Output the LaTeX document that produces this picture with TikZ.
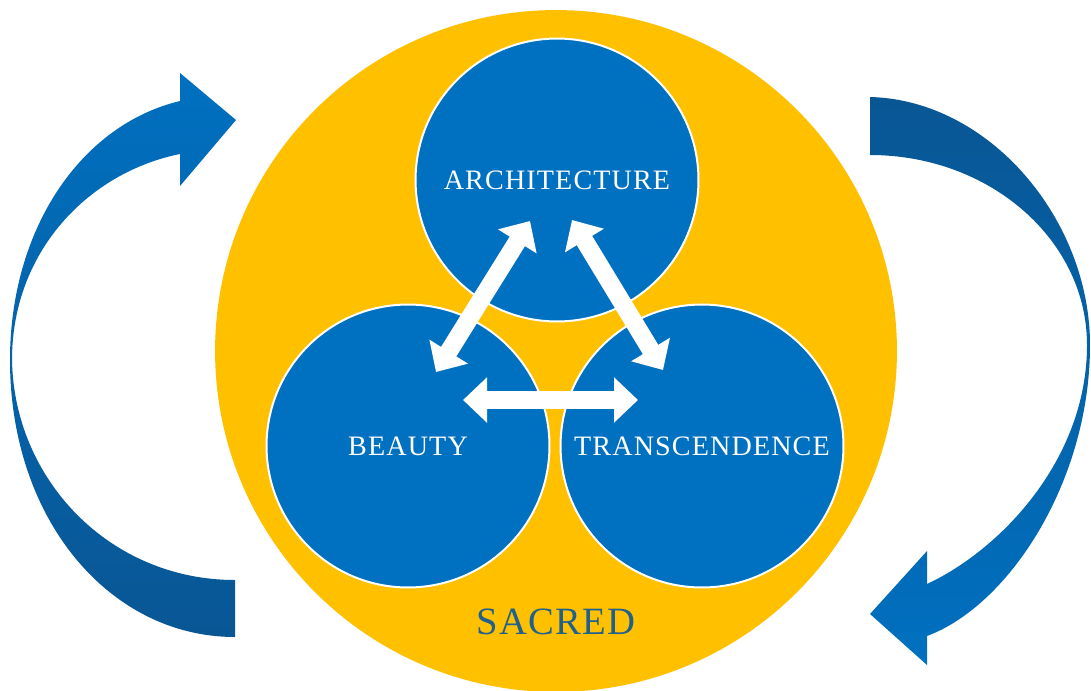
\documentclass[tikz,border=0pt]{standalone}
\usepackage{fontspec}
\setmainfont{Liberation Serif}
\usetikzlibrary{arrows.meta,calc}
\definecolor{gold}{RGB}{255,192,0}
\definecolor{ringblue}{RGB}{0,112,192}
\definecolor{deepblue}{RGB}{9,86,148}
\definecolor{sacredtext}{RGB}{31,96,140}
\begin{document}
\begin{tikzpicture}[x=0.02cm,y=-0.02cm,
  bubble/.style={circle, fill=ringblue, draw=white, line width=0.04cm,
    minimum size=5.66cm, inner sep=0pt, text=white,
    font=\fontsize{16}{18}\selectfont\addfontfeatures{LetterSpace=4}},
  link/.style={draw=white, line width=0.36cm,
    {Triangle[width=0.88cm,length=0.48cm]}-{Triangle[width=0.88cm,length=0.48cm]}},
  cycleband/.style={draw=none},
]
\useasboundingbox (0,0) rectangle (1091,690);
\fill[white] (0,0) rectangle (1091,690);

% gold disc behind the three ideas
\node[circle, fill=gold, minimum size=13.64cm, inner sep=0pt] (disc) at (556,351) {};

% the three ideas
\node[bubble] (arch) at (557,180) {ARCHITECTURE};
\node[bubble] (beauty) at (408,446) {BEAUTY};
\node[bubble] (trans) at (702,446) {TRANSCENDENCE};

\node[text=sacredtext, font=\fontsize{22}{26}\selectfont\addfontfeatures{LetterSpace=3}]
  (sacred) at (556,622) {SACRED};

% two-way links between the ideas
\coordinate (ab1) at (530,221);
\coordinate (ab2) at (436,372);
\coordinate (at1) at (572,220);
\coordinate (at2) at (663,370);
\coordinate (bt1) at (463,400);
\coordinate (bt2) at (638,400);
\draw[link] (ab1) -- (ab2);
\draw[link] (at1) -- (at2);
\draw[link] (bt1) -- (bt2);

% left cycle arrow, rising to the right
\path[cycleband, top color=ringblue, bottom color=deepblue]
  (235,580) .. controls (110,580) and (14,480) .. (12,360)
  .. controls (12,250) and (90,172) .. (180,154)
  -- (180,186) -- (236,120) -- (180,73) -- (180,101)
  .. controls (80,125) and (10,230) .. (10,360)
  .. controls (10,520) and (110,637) .. (235,637) -- cycle;

% right cycle arrow, falling to the left
\path[cycleband, top color=deepblue, bottom color=ringblue]
  (870,97) .. controls (990,100) and (1090,220) .. (1090,345)
  .. controls (1090,480) and (1010,605) .. (927,636)
  -- (927,665) -- (870,614) -- (927,551) -- (927,584)
  .. controls (1000,550) and (1087,460) .. (1087,345)
  .. controls (1087,240) and (990,155) .. (870,155) -- cycle;
\end{tikzpicture}
\end{document}
